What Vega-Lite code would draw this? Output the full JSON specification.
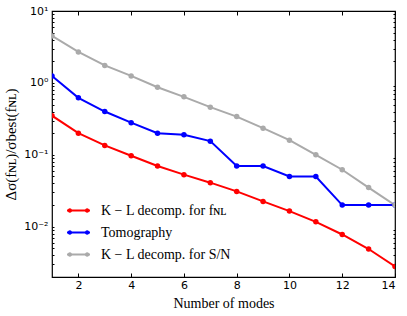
{
  "$schema": "https://vega.github.io/schema/vega-lite/v6.json",
  "autosize": "none",
  "width": 343,
  "height": 266,
  "padding": {"left": 52, "top": 11, "right": 12, "bottom": 39},
  "background": "white",
  "config": {
    "view": {"stroke": "black", "strokeWidth": 1.2},
    "axis": {"domain": false, "grid": false, "tickColor": "black", "tickSize": -4, "labelFont": "DejaVu Sans", "labelFontSize": 11, "labelColor": "black", "titleFont": "Liberation Serif", "titleFontWeight": "normal", "titleFontSize": 14, "titleColor": "black", "labelPadding": 6}
  },
  "data": {"values": [
    {"n": 1, "s": "KL_fNL", "v": 0.35}, {"n": 2, "s": "KL_fNL", "v": 0.2}, {"n": 3, "s": "KL_fNL", "v": 0.135}, {"n": 4, "s": "KL_fNL", "v": 0.097}, {"n": 5, "s": "KL_fNL", "v": 0.07}, {"n": 6, "s": "KL_fNL", "v": 0.053}, {"n": 7, "s": "KL_fNL", "v": 0.041}, {"n": 8, "s": "KL_fNL", "v": 0.031}, {"n": 9, "s": "KL_fNL", "v": 0.0225}, {"n": 10, "s": "KL_fNL", "v": 0.0165}, {"n": 11, "s": "KL_fNL", "v": 0.0117}, {"n": 12, "s": "KL_fNL", "v": 0.0078}, {"n": 13, "s": "KL_fNL", "v": 0.0049}, {"n": 14, "s": "KL_fNL", "v": 0.0028},
    {"n": 1, "s": "Tomo", "v": 1.25}, {"n": 2, "s": "Tomo", "v": 0.62}, {"n": 3, "s": "Tomo", "v": 0.4}, {"n": 4, "s": "Tomo", "v": 0.28}, {"n": 5, "s": "Tomo", "v": 0.2}, {"n": 6, "s": "Tomo", "v": 0.19}, {"n": 7, "s": "Tomo", "v": 0.155}, {"n": 8, "s": "Tomo", "v": 0.07}, {"n": 9, "s": "Tomo", "v": 0.07}, {"n": 10, "s": "Tomo", "v": 0.05}, {"n": 11, "s": "Tomo", "v": 0.05}, {"n": 12, "s": "Tomo", "v": 0.02}, {"n": 13, "s": "Tomo", "v": 0.02}, {"n": 14, "s": "Tomo", "v": 0.02},
    {"n": 1, "s": "KL_SN", "v": 4.5}, {"n": 2, "s": "KL_SN", "v": 2.7}, {"n": 3, "s": "KL_SN", "v": 1.75}, {"n": 4, "s": "KL_SN", "v": 1.25}, {"n": 5, "s": "KL_SN", "v": 0.87}, {"n": 6, "s": "KL_SN", "v": 0.64}, {"n": 7, "s": "KL_SN", "v": 0.46}, {"n": 8, "s": "KL_SN", "v": 0.34}, {"n": 9, "s": "KL_SN", "v": 0.235}, {"n": 10, "s": "KL_SN", "v": 0.16}, {"n": 11, "s": "KL_SN", "v": 0.1}, {"n": 12, "s": "KL_SN", "v": 0.062}, {"n": 13, "s": "KL_SN", "v": 0.035}, {"n": 14, "s": "KL_SN", "v": 0.02}
  ]},
  "encoding": {
    "x": {"field": "n", "type": "quantitative", "scale": {"domain": [1, 14], "nice": false, "zero": false}},
    "y": {"field": "v", "type": "quantitative", "scale": {"type": "log", "domain": [0.002, 10], "nice": false}},
    "color": {"field": "s", "type": "nominal", "scale": {"domain": ["KL_fNL", "Tomo", "KL_SN"], "range": ["#ff0000", "#0000ff", "#aaaaaa"]},
      "legend": {"orient": "bottom-left", "offset": 11, "title": null, "labelFont": "Liberation Serif", "labelFontSize": 14, "labelColor": "black", "rowPadding": 3, "symbolSize": 529, "symbolStrokeWidth": 0, "symbolOpacity": 1, "padding": 4, "labelOffset": 11,
        "symbolType": "M-1,-0.09H1V0.09H-1Z M-0.95,0 a0.2,0.2 0 1,1 0.4,0 a0.2,0.2 0 1,1 -0.4,0 Z M0.55,0 a0.2,0.2 0 1,1 0.4,0 a0.2,0.2 0 1,1 -0.4,0 Z",
        "labelExpr": "datum.value == 'KL_fNL' ? 'K − L decomp. for fɴʟ' : datum.value == 'Tomo' ? 'Tomography' : 'K − L decomp. for S/N'",
        "encode": {"symbols": {"update": {"fill": {"scale": "color", "field": "value"}, "strokeWidth": {"value": 0}}}}}}
  },
  "layer": [
    {"mark": {"type": "line", "strokeWidth": 2, "clip": true},
     "encoding": {
       "x": {"field": "n", "type": "quantitative", "title": "Number of modes", "axis": {"values": [2, 4, 6, 8, 10, 12, 14], "titlePadding": 6}},
       "y": {"field": "v", "type": "quantitative", "title": "Δσ(fɴʟ)/σbest(fɴʟ)", "axis": {"values": [0.003,0.004,0.005,0.006,0.007,0.008,0.009,0.01,0.02,0.03,0.04,0.05,0.06,0.07,0.08,0.09,0.1,0.2,0.3,0.4,0.5,0.6,0.7,0.8,0.9,1,2,3,4,5,6,7,8,9,10],
         "labelExpr": "datum.value == 10 ? '10¹' : datum.value == 1 ? '10⁰' : datum.value == 0.1 ? '10⁻¹' : datum.value == 0.01 ? '10⁻²' : ''",
         "tickSize": -2, "titlePadding": 5, "titleFontSize": 15}}
     }},
    {"mark": {"type": "point", "filled": true, "size": 30, "opacity": 1, "clip": true},
     "encoding": {
       "x": {"field": "n", "type": "quantitative", "axis": {"orient": "top", "labels": false, "title": null, "values": [2, 4, 6, 8, 10, 12, 14]}},
       "y": {"field": "v", "type": "quantitative", "axis": {"orient": "right", "labels": false, "title": null, "values": [0.003,0.004,0.005,0.006,0.007,0.008,0.009,0.02,0.03,0.04,0.05,0.06,0.07,0.08,0.09,0.2,0.3,0.4,0.5,0.6,0.7,0.8,0.9,2,3,4,5,6,7,8,9], "tickSize": -2}}
     }}
  ],
  "resolve": {"axis": {"x": "independent", "y": "independent"}}
}
